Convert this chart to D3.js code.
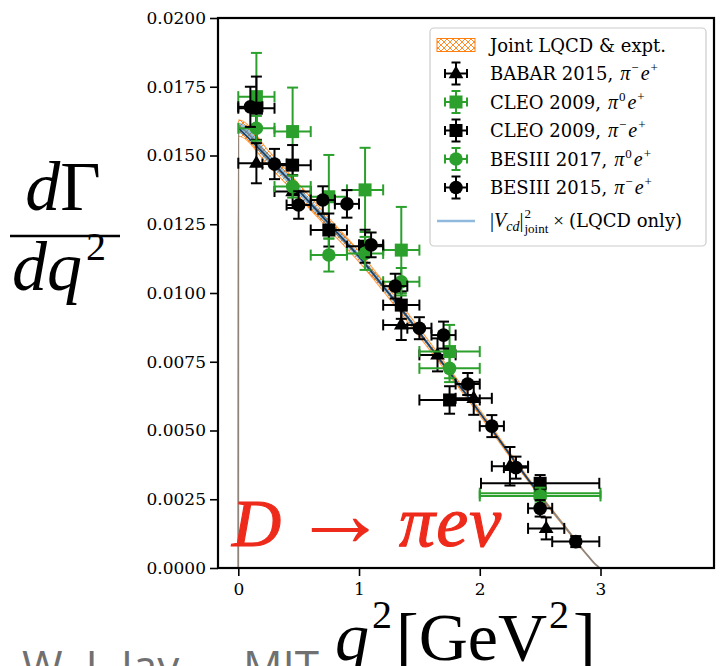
<!DOCTYPE html>
<html><head><meta charset="utf-8">
<script src="https://cdn.jsdelivr.net/npm/d3@7"></script>
<style>
body{margin:0;background:#fff;}
svg{display:block;}
</style></head><body>
<svg id="chart" width="725" height="666"></svg>
<script>
// Differential decay rate dGamma/dq^2 for D -> pi e nu

// Theory curve (joint LQCD & experiment fit), tabulated in q^2 [GeV^2]
const q2Grid       = [0, 0.001, 0.25, 0.5, 0.75, 1.0, 1.25, 1.5, 1.75, 2.0, 2.25, 2.5, 2.75, 2.85, 2.9, 2.95, 2.98, 2.993];
const rateCentral  = [0, 0.01600, 0.01490, 0.01373, 0.01252, 0.01132, 0.00997, 0.00856, 0.00711, 0.00565, 0.00412, 0.00264, 0.00125, 0.00068, 0.00042, 0.00017, 0.00005, 0];
const rateErrJoint = [0, 0.00030, 0.00027, 0.00024, 0.00021, 0.00019, 0.00017, 0.00015, 0.00012, 0.00010, 0.00008, 0.00005, 0.00003, 0.00002, 0.00001, 0.000005, 0, 0];
const rateErrLqcd  = [0, 0.00019, 0.00017, 0.00015, 0.00014, 0.00012, 0.00011, 0.00009, 0.00008, 0.00006, 0.00005, 0.00003, 0.00002, 0.00001, 0.000005, 0.000003, 0, 0];

// Experimental measurements: bin centres, half bin widths, rates, errors
const babarQ2    = [0.15, 0.45, 1.35, 1.65, 1.95, 2.25, 2.55];
const babarHalf  = [0.15, 0.15, 0.15, 0.15, 0.15, 0.15, 0.15];
const babarRate  = [0.01472, 0.01369, 0.00884, 0.00775, 0.00617, 0.00370, 0.00144];
const babarErr   = [0.00073, 0.00060, 0.00055, 0.00060, 0.00060, 0.00070, 0.00040];

const cleoNeutralQ2   = [0.15, 0.45, 0.75, 1.05, 1.35, 1.75, 2.5];
const cleoNeutralHalf = [0.15, 0.15, 0.15, 0.15, 0.15, 0.25, 0.5];
const cleoNeutralRate = [0.01714, 0.01587, 0.01350, 0.01375, 0.01156, 0.00787, 0.00272];
const cleoNeutralErr  = [0.00159, 0.00160, 0.00152, 0.00153, 0.00157, 0.00097, 0.00030];

const cleoChargedQ2   = [0.15, 0.45, 0.75, 1.05, 1.35, 1.75, 2.5];
const cleoChargedHalf = [0.15, 0.15, 0.15, 0.15, 0.15, 0.25, 0.49];
const cleoChargedRate = [0.01672, 0.01465, 0.01229, 0.01170, 0.00956, 0.00611, 0.00308];
const cleoChargedErr  = [0.00115, 0.00073, 0.00060, 0.00060, 0.00050, 0.00050, 0.00030];

const bes17Q2   = [0.15, 0.45, 0.75, 1.05, 1.35, 1.75, 2.5];
const bes17Half = [0.15, 0.15, 0.15, 0.15, 0.15, 0.25, 0.5];
const bes17Rate = [0.01599, 0.01387, 0.01138, 0.01144, 0.01041, 0.00726, 0.00262];
const bes17Err  = [0.00045, 0.00040, 0.00060, 0.00060, 0.00050, 0.00050, 0.00030];

const bes15Q2   = [0.1, 0.3, 0.5, 0.7, 0.9, 1.1, 1.3, 1.5, 1.7, 1.9, 2.1, 2.3, 2.5, 2.795];
const bes15Half = [0.1, 0.1, 0.1, 0.1, 0.1, 0.1, 0.1, 0.1, 0.1, 0.1, 0.1, 0.1, 0.1, 0.195];
const bes15Rate = [0.01677, 0.01469, 0.01320, 0.01338, 0.01324, 0.01175, 0.01025, 0.00872, 0.00847, 0.00669, 0.00516, 0.00365, 0.00217, 0.00096];
const bes15Err  = [0.00073, 0.00055, 0.00050, 0.00050, 0.00050, 0.00045, 0.00045, 0.00040, 0.00049, 0.00040, 0.00040, 0.00040, 0.00030, 0.00020];

const yTicks = [0, 0.0025, 0.005, 0.0075, 0.01, 0.0125, 0.015, 0.0175, 0.02];
const xTicks = [0, 1, 2, 3];

const GREEN = "#2ca02c", BLACK = "#000000", ORANGE = "#ff7f0e";
const serif = "'DejaVu Serif', serif";
const mathFont = "'Liberation Serif', 'DejaVu Serif', serif";

const series = [
  {name: "BABAR 2015,", sup1: "\u2212", q2: babarQ2, half: babarHalf, rate: babarRate, err: babarErr, color: BLACK, marker: "tri"},
  {name: "CLEO 2009,", sup1: "0", q2: cleoNeutralQ2, half: cleoNeutralHalf, rate: cleoNeutralRate, err: cleoNeutralErr, color: GREEN, marker: "sq"},
  {name: "CLEO 2009,", sup1: "\u2212", q2: cleoChargedQ2, half: cleoChargedHalf, rate: cleoChargedRate, err: cleoChargedErr, color: BLACK, marker: "sq"},
  {name: "BESIII 2017,", sup1: "0", q2: bes17Q2, half: bes17Half, rate: bes17Rate, err: bes17Err, color: GREEN, marker: "circ"},
  {name: "BESIII 2015,", sup1: "\u2212", q2: bes15Q2, half: bes15Half, rate: bes15Rate, err: bes15Err, color: BLACK, marker: "circ"}
];

const svg = d3.select("#chart");
const L = 218, R = 714, T = 18, B = 568;
const x = d3.scaleLinear().domain([-0.168, 3.94]).range([L, R]);
const y = d3.scaleLinear().domain([0, 0.02]).range([B, T]);

// hatch pattern for the joint band
const defs = svg.append("defs");
const pat = defs.append("pattern").attr("id", "hatch").attr("patternUnits", "userSpaceOnUse")
  .attr("width", 6).attr("height", 6);
pat.append("path").attr("d", "M0,0L6,6M0,6L6,0M-1,1L1,-1M5,7L7,5M-1,5L1,7M5,-1L7,1")
  .attr("stroke", ORANGE).attr("stroke-width", 0.9).attr("fill", "none");
defs.append("clipPath").attr("id", "plotclip").append("rect")
  .attr("x", L).attr("y", T).attr("width", R - L).attr("height", B - T);

const plot = svg.append("g").attr("clip-path", "url(#plotclip)");

// theory bands
const curveRows = q2Grid.map((q, i) => ({q, c: rateCentral[i], ej: rateErrJoint[i], el: rateErrLqcd[i]}));
const areaJoint = d3.area().x(d => x(d.q)).y0(d => y(d.c - d.ej)).y1(d => y(d.c + d.ej)).curve(d3.curveMonotoneX);
const areaLqcd = d3.area().x(d => x(d.q)).y0(d => y(d.c - d.el)).y1(d => y(d.c + d.el)).curve(d3.curveMonotoneX);
const lineC = d3.line().x(d => x(d.q)).y(d => y(d.c)).curve(d3.curveMonotoneX);
const lineUp = d3.line().x(d => x(d.q)).y(d => y(d.c + d.ej)).curve(d3.curveMonotoneX);
const lineLo = d3.line().x(d => x(d.q)).y(d => y(d.c - d.ej)).curve(d3.curveMonotoneX);

plot.append("path").datum(curveRows).attr("d", areaJoint).attr("fill", "url(#hatch)").attr("stroke", "none");
plot.append("path").datum(curveRows).attr("d", areaLqcd).attr("fill", "#1f77b4").attr("fill-opacity", 0.45);
plot.append("path").datum(curveRows).attr("d", lineUp).attr("fill", "none").attr("stroke", ORANGE).attr("stroke-opacity", 0.7).attr("stroke-width", 1.2);
plot.append("path").datum(curveRows).attr("d", lineLo).attr("fill", "none").attr("stroke", ORANGE).attr("stroke-opacity", 0.7).attr("stroke-width", 1.2);
plot.append("path").datum(curveRows).attr("d", lineC).attr("fill", "none").attr("stroke", "#5f7f9a").attr("stroke-opacity", 0.7).attr("stroke-width", 1.8);
plot.append("path").datum(curveRows.filter(d => d.q > 0 && d.q < 2.7)).attr("d", lineC).attr("fill", "none").attr("stroke", "#1b3f66").attr("stroke-width", 1.6);

// markers
function drawMarker(g, kind, cx, cy, color, s) {
  if (kind === "circ") {
    g.append("circle").attr("cx", cx).attr("cy", cy).attr("r", 6.8 * s).attr("fill", color);
  } else if (kind === "sq") {
    const h = 6.5 * s;
    g.append("rect").attr("x", cx - h).attr("y", cy - h).attr("width", 2 * h).attr("height", 2 * h).attr("fill", color);
  } else {
    const r = 8 * s;
    g.append("path").attr("d", `M${cx},${cy - r}L${cx + r * 0.92},${cy + r * 0.58}L${cx - r * 0.92},${cy + r * 0.58}Z`).attr("fill", color);
  }
}
function errorBar(g, x0, x1, y0, y1, cx, cy, color, cap) {
  g.append("line").attr("x1", x0).attr("x2", x1).attr("y1", cy).attr("y2", cy).attr("stroke", color).attr("stroke-width", 2);
  g.append("line").attr("x1", cx).attr("x2", cx).attr("y1", y0).attr("y2", y1).attr("stroke", color).attr("stroke-width", 2);
  [x0, x1].forEach(xx => g.append("line").attr("x1", xx).attr("x2", xx).attr("y1", cy - cap).attr("y2", cy + cap).attr("stroke", color).attr("stroke-width", 2));
  [y0, y1].forEach(yy => g.append("line").attr("x1", cx - cap).attr("x2", cx + cap).attr("y1", yy).attr("y2", yy).attr("stroke", color).attr("stroke-width", 2));
}

const pts = svg.append("g");
series.forEach(s => {
  s.q2.forEach((q, i) => {
    const cx = x(q), cy = y(s.rate[i]);
    errorBar(pts, x(q - s.half[i]), x(q + s.half[i]), y(s.rate[i] + s.err[i]), y(s.rate[i] - s.err[i]), cx, cy, s.color, 5.5);
    drawMarker(pts, s.marker, cx, cy, s.color, 1);
  });
});

// axes
const yAxis = d3.axisLeft(y).tickValues(yTicks).tickFormat(d3.format(".4f")).tickSize(8).tickPadding(4);
const xAxis = d3.axisBottom(x).tickValues(xTicks).tickFormat(d3.format("d")).tickSize(8).tickPadding(7);
const gy = svg.append("g").attr("transform", `translate(${L},0)`).call(yAxis);
const gx = svg.append("g").attr("transform", `translate(0,${B})`).call(xAxis);
[gx, gy].forEach(g => {
  g.select(".domain").remove();
  g.selectAll(".tick line").attr("stroke", "#000").attr("stroke-width", 1.6);
  g.selectAll(".tick text").attr("font-family", serif).attr("font-size", 17).attr("fill", "#000");
});
svg.append("rect").attr("x", L).attr("y", T).attr("width", R - L).attr("height", B - T)
  .attr("fill", "none").attr("stroke", "#000").attr("stroke-width", 2.2);

// rich text helper: places pieces one after another
function rich(parent, x0, y0, parts, color) {
  let cx = x0;
  parts.forEach(p => {
    const t = parent.append("text").attr("x", cx).attr("y", y0 + (p.dy || 0))
      .attr("font-family", p.font || serif).attr("font-style", p.it ? "italic" : "normal")
      .attr("font-size", p.size).attr("fill", color || "#000").text(p.t);
    if (p.bold) t.attr("stroke", color).attr("stroke-width", p.bold);
    const w = t.node().getComputedTextLength();
    if (!p.stay) cx += w + (p.kern || 0);
  });
  return cx;
}

// legend
const lg = svg.append("g");
lg.append("rect").attr("x", 430).attr("y", 28).attr("width", 276).attr("height", 218).attr("rx", 4)
  .attr("fill", "#fff").attr("fill-opacity", 0.85).attr("stroke", "#cccccc").attr("stroke-width", 1.2);
const rows = [45, 73.5, 102, 130.5, 159, 187.5];
lg.append("rect").attr("x", 437).attr("y", rows[0] - 6.5).attr("width", 38).attr("height", 13)
  .attr("fill", "url(#hatch)").attr("stroke", ORANGE).attr("stroke-width", 1);
rich(lg, 490, rows[0] + 6.5, [{t: "Joint LQCD & expt.", size: 18}]);
series.forEach((s, i) => {
  const cy = rows[i + 1], cx = 456;
  errorBar(lg, cx - 11, cx + 11, cy - 11, cy + 11, cx, cy, s.color, 4.5);
  drawMarker(lg, s.marker, cx, cy, s.color, 1);
  rich(lg, 490, cy + 6.5, [
    {t: s.name, size: 18, kern: 7},
    {t: "\u03c0", size: 20, it: true, font: mathFont, kern: 1},
    {t: s.sup1, size: 13, dy: -8, font: mathFont, kern: 2},
    {t: "e", size: 20, it: true, font: mathFont, kern: 1},
    {t: "+", size: 13, dy: -8, font: mathFont}
  ]);
});
lg.append("line").attr("x1", 437).attr("x2", 475).attr("y1", 221).attr("y2", 221)
  .attr("stroke", "#8fbadd").attr("stroke-width", 2.5);
rich(lg, 490, 227, [
  {t: "|", size: 20, font: mathFont},
  {t: "V", size: 20, it: true, font: mathFont},
  {t: "cd", size: 14, it: true, dy: 4, font: mathFont},
  {t: "|", size: 20, font: mathFont, kern: 1},
  {t: "2", size: 13, dy: -9, font: mathFont, stay: true},
  {t: "joint", size: 13, dy: 6, font: mathFont, kern: 5},
  {t: "\u00d7", size: 19, font: mathFont, kern: 5},
  {t: "(LQCD only)", size: 18}
]);

// process label
const red = "#ee2a1b";
rich(svg, 232, 546, [
  {t: "D", size: 68, it: true, font: mathFont, kern: 11, bold: 1.1},
  {t: "\u2192", size: 96, font: mathFont, kern: 11},
  {t: "\u03c0", size: 72, it: true, font: mathFont, kern: 1, bold: 1.1},
  {t: "e", size: 72, it: true, font: mathFont, kern: 1, bold: 1.1},
  {t: "\u03bd", size: 72, it: true, font: mathFont, bold: 1.1}
], red);

// axis titles
const ylab = svg.append("g");
ylab.append("text").attr("x", 63).attr("y", 210).attr("text-anchor", "middle").attr("font-family", mathFont)
  .attr("font-size", 70).call(t => { t.append("tspan").attr("font-style", "italic").text("d"); t.append("tspan").text("\u0393"); });
ylab.append("line").attr("x1", 10).attr("x2", 120).attr("y1", 236).attr("y2", 236).attr("stroke", "#000").attr("stroke-width", 2.6);
rich(ylab, 12, 290, [
  {t: "d", size: 70, it: true, font: mathFont},
  {t: "q", size: 70, it: true, font: mathFont, kern: 4},
  {t: "2", size: 40, dy: -30, font: mathFont}
]);
rich(svg, 335, 660, [
  {t: "q", size: 68, it: true, font: mathFont, kern: 3},
  {t: "2", size: 40, dy: -32, font: mathFont, kern: 4},
  {t: "[", size: 68, font: mathFont},
  {t: "GeV", size: 68, font: mathFont, kern: 2},
  {t: "2", size: 40, dy: -32, font: mathFont, kern: 4},
  {t: "]", size: 68, font: mathFont}
]);

// credit line at the bottom
svg.append("text").attr("x", 22).attr("y", 682).attr("font-family", "'Open Sans', sans-serif")
  .attr("font-size", 44).attr("fill", "#707070").text("W. I. Jay,");
svg.append("text").attr("x", 243).attr("y", 682).attr("font-family", "'Open Sans', sans-serif")
  .attr("font-size", 44).attr("fill", "#707070").text("MIT");
</script>
</body></html>
